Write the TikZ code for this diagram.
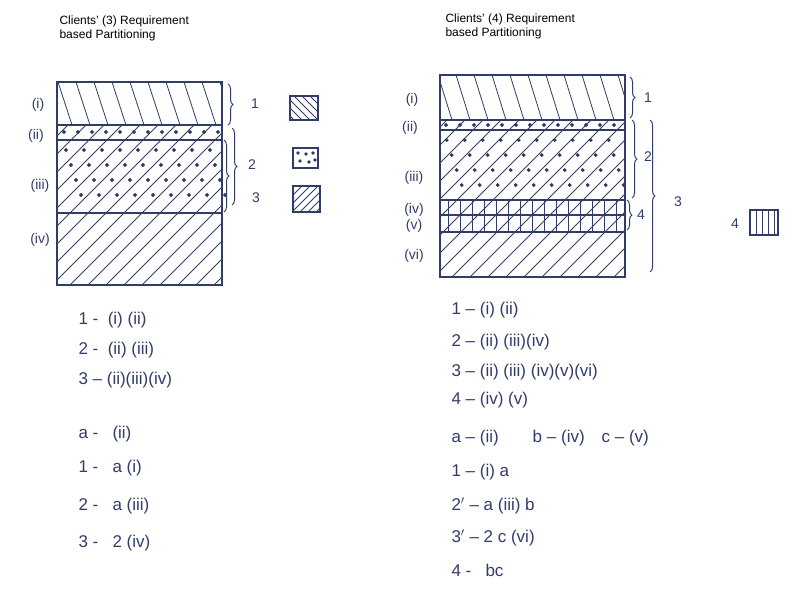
\documentclass[tikz,border=0pt]{standalone}
\usepackage{fontspec}
\setmainfont{Liberation Sans}
\usetikzlibrary{decorations.pathreplacing}
\definecolor{ink}{RGB}{50,60,105}
\begin{document}
\begin{tikzpicture}[x=1pt,y=-1pt,
  ink/.style={draw=ink,line width=1.1pt},
  hat/.style={draw=ink,line width=0.8pt},
  hw/.style={anchor=west,text=ink,font=\fontsize{17}{17}\selectfont},
  lbl/.style={text=ink,font=\fontsize{14}{14}\selectfont},
  ttl/.style={anchor=north west,align=left,font=\fontsize{12}{14}\selectfont},
  brc/.style={draw=ink,line width=1pt,decorate,decoration={brace,amplitude=5pt}}]
\useasboundingbox (0,0) rectangle (800,595);
\fill[white] (0,0) rectangle (800,595);
\node[ttl] (t1) at (56,12) {Clients' (3) Requirement\\based Partitioning};
\node[ttl] (t2) at (442,10) {Clients' (4) Requirement\\based Partitioning};
% ---- left block
\begin{scope}
\clip (57,82) rectangle (222,125);
\foreach \s in {40,58,...,240} \draw[hat] (\s,82) -- (\s+14,125);
\end{scope}
\begin{scope}
\clip (57,125) rectangle (222,285);
\foreach \s in {-200,-182,...,240} \draw[hat] (\s,285) -- (\s+160,125);
\end{scope}
\foreach \x in {64,78,...,220} \fill[ink] (\x,132) circle (1.3);
\foreach \y in {150,165,...,205} \foreach \x in {66,84,...,215} \fill[ink] (\x+\y/3-50,\y) circle (1.3);
\draw[ink] (57,82) rectangle (222,285);
\draw[ink] (57,125) -- (222,125); \draw[ink] (57,140) -- (222,140); \draw[ink] (57,213) -- (222,213);
\node[lbl] (l1) at (38,105) {(i)};
\node[lbl] (l2) at (36,136) {(ii)};
\node[lbl] (l3) at (40,186) {(iii)};
\node[lbl] (l4) at (40,240) {(iv)};
\draw[brc] (228,84) -- (228,125);
\draw[brc] (232,128) -- (232,205);
\draw[brc] (224,140) -- (224,212);
\node[lbl] (b1) at (255,104) {1};
\node[lbl] (b2) at (252,165) {2};
\node[lbl] (b3) at (256,198) {3};
\draw[ink] (290,96) rectangle (318,120);
\begin{scope}\clip (290,96) rectangle (318,120);
\foreach \s in {270,278,...,318} \draw[hat] (\s,96) -- (\s+24,120);\end{scope}
\draw[ink] (293,148) rectangle (318,168);
\foreach \x/\y in {298/153,306/154,313/153,300/161,309/162,315/160} \fill[ink] (\x,\y) circle (1.2);
\draw[ink] (293,186) rectangle (320,212);
\begin{scope}\clip (293,186) rectangle (320,212);
\foreach \s in {260,268,...,320} \draw[hat] (\s,212) -- (\s+26,186);\end{scope}
\node[hw] (p1) at (75,320) {1 -\ \ (i) (ii)};
\node[hw] (p2) at (75,350) {2 -\ \ (ii) (iii)};
\node[hw] (p3) at (75,380) {3 -- (ii)(iii)(iv)};
\node[hw] (p4) at (75,434) {a -\ \ \ (ii)};
\node[hw] (p5) at (75,468) {1 -\ \ \ a (i)};
\node[hw] (p6) at (75,506) {2 -\ \ \ a (iii)};
\node[hw] (p7) at (75,543) {3 -\ \ \ 2 (iv)};
% ---- right block
\begin{scope}
\clip (440,75) rectangle (625,120);
\foreach \s in {420,438,...,640} \draw[hat] (\s,75) -- (\s+14,120);
\end{scope}
\begin{scope}
\clip (440,120) rectangle (625,277);
\foreach \s in {-200,-182,...,640} \draw[hat] (\s+400,277) -- (\s+557,120);
\end{scope}
\foreach \x in {446,460,...,622} \fill[ink] (\x,125) circle (1.3);
\foreach \y in {140,155,...,195} \foreach \x in {450,468,...,618} \fill[ink] (\x+\y/3-50,\y) circle (1.3);
\foreach \x in {448,460,...,620} \draw[hat] (\x,200) -- (\x,232);
\draw[ink] (440,75) rectangle (625,277);
\draw[ink] (440,120) -- (625,120); \draw[ink] (440,130) -- (625,130);
\draw[ink] (440,200) -- (625,200); \draw[ink] (440,215) -- (625,215); \draw[ink] (440,232) -- (625,232);
\node[lbl] (r1) at (412,100) {(i)};
\node[lbl] (r2) at (410,128) {(ii)};
\node[lbl] (r3) at (414,178) {(iii)};
\node[lbl] (r4) at (414,210) {(iv)};
\node[lbl] (r5) at (414,226) {(v)};
\node[lbl] (r6) at (414,256) {(vi)};
\draw[brc] (630,77) -- (630,118);
\draw[brc] (632,120) -- (632,198);
\draw[brc] (650,120) -- (650,272);
\draw[brc] (627,200) -- (627,230);
\node[lbl] (s1) at (648,98) {1};
\node[lbl] (s2) at (648,157) {2};
\node[lbl] (s3) at (678,202) {3};
\node[lbl] (s4) at (641,215) {4};
\node[lbl] (s5) at (735,224) {4};
\draw[ink] (750,210) rectangle (778,235);
\foreach \x in {756,762,...,775} \draw[hat] (\x,210) -- (\x,235);
\node[hw] (q1) at (448,310) {1 -- (i) (ii)};
\node[hw] (q2) at (448,342) {2 -- (ii) (iii)(iv)};
\node[hw] (q3) at (448,372) {3 -- (ii) (iii) (iv)(v)(vi)};
\node[hw] (q4) at (448,400) {4 -- (iv) (v)};
\node[hw] (q5) at (448,438) {a -- (ii)\qquad b -- (iv)\quad c -- (v)};
\node[hw] (q6) at (448,472) {1 -- (i) a};
\node[hw] (q7) at (448,506) {2$'$ -- a (iii) b};
\node[hw] (q8) at (448,538) {3$'$ -- 2 c (vi)};
\node[hw] (q9) at (448,570) {4 -\ \ \ bc};
\end{tikzpicture}
\end{document}
